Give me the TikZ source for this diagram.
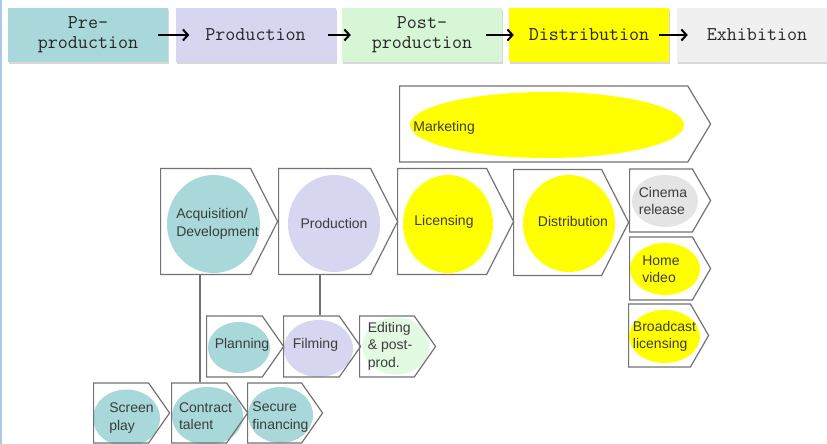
\documentclass[tikz,border=0pt]{standalone}
\usepackage{fontspec}
\newfontfamily\arialfont{Liberation Sans}
\usetikzlibrary{shapes.geometric,shapes.symbols,shadows,arrows.meta}

\definecolor{tealbox}{RGB}{168,216,218}
\definecolor{lavbox}{RGB}{214,214,240}
\definecolor{mintbox}{RGB}{214,246,214}
\definecolor{yellbox}{RGB}{255,255,0}
\definecolor{greybox}{RGB}{240,240,240}
\definecolor{edgegrey}{RGB}{115,115,115}
\definecolor{inkgrey}{RGB}{60,60,60}
\definecolor{winblue}{RGB}{170,202,234}

\begin{document}
\begin{tikzpicture}[x = 1pt, y = -1pt, >= {Straight Barb[length=5pt, width=11pt, line width=2pt]},
    stage/.style = {minimum width = 160pt, minimum height = 54pt, inner sep = 0pt, align = center,
        font = \fontsize{19.5}{20}\selectfont\ttfamily, text = black!85,
        drop shadow = {shadow xshift = 1pt, shadow yshift = -2pt, opacity = .3}},
    flow/.style = {->, line width = 2pt, black},
    chev/.style = {signal, signal to = east, anchor = west, draw = edgegrey, line width = 1.2pt, inner sep = 0pt},
    blob/.style = {ellipse, inner sep = 0pt},
    txt/.style = {font = \fontsize{14}{17.5}\selectfont\arialfont, text = inkgrey, align = left},
    link/.style = {draw = edgegrey, line width = 1.2pt}]

    \useasboundingbox (0, 0) rectangle (827, 444);
    \fill [white] (0, 0) rectangle (827, 444);
    \draw [winblue, line width = 1.2pt] (1, 0) -- (1, 444);

    % pipeline along the top
    \node [stage, fill = tealbox] (pre) at (88, 35) {Pre-\\production};
    \node [stage, fill = lavbox] (prodn) at (255.5, 35) {Production};
    \node [stage, fill = mintbox] (post) at (422, 35) {Post-\\production};
    \node [stage, fill = yellbox] (distr) at (589, 35) {Distribution};
    \node [stage, fill = greybox] (exhib) at (757, 35) {Exhibition};

    \draw [flow] ([xshift = -10pt]pre.east) -- ([xshift = 14pt]prodn.west);
    \draw [flow] ([xshift = -8pt]prodn.east) -- ([xshift = 9pt]post.west);
    \draw [flow] ([xshift = -16pt]post.east) -- ([xshift = 5pt]distr.west);
    \draw [flow] ([xshift = -10pt]distr.east) -- ([xshift = 11pt]exhib.west);

    %%%%%%%%%%%%%%%%%%%%
    \node [blob, fill = yellbox, minimum width = 274pt, minimum height = 66pt] (mktE) at (547, 125) {};
    \node [txt, anchor = west] (mktT) at ([yshift = -3pt]mktE.west) {Marketing};
    \node [chev, signal pointer angle = 118, minimum width = 311pt, minimum height = 76pt] (mkt) at (399, 124) {};

    \node [blob, fill = tealbox, minimum width = 93pt, minimum height = 98pt, label = {[txt, xshift = 4pt]center:Acquisition/\\Development}] (acqE) at (213.5, 224) {};
    \node [blob, fill = lavbox, minimum width = 92pt, minimum height = 97pt, label = {[txt]center:Production}] (prodE) at (334, 223.5) {};
    \node [blob, fill = yellbox, minimum width = 90pt, minimum height = 98pt, label = {[txt, xshift = -4pt, yshift = 2pt]center:Licensing}] (licE) at (448, 224) {};
    \node [blob, fill = yellbox, minimum width = 92pt, minimum height = 97pt, label = {[txt, xshift = 4pt, yshift = 2pt]center:Distribution}] (distE) at (569, 223.5) {};

    \node [chev, signal pointer angle = 126, minimum width = 117pt, minimum height = 106pt] (acq) at (160, 221.5) {};
    \node [chev, signal pointer angle = 126, minimum width = 119pt, minimum height = 106pt] (prod) at (278, 221.5) {};
    \node [chev, signal pointer angle = 126, minimum width = 116pt, minimum height = 106pt] (lic) at (397, 221.5) {};
    \node [chev, signal pointer angle = 126, minimum width = 115pt, minimum height = 106pt] (dist) at (513, 222.5) {};

    % outlets
    \node [blob, fill = greybox!95!black, minimum width = 66pt, minimum height = 52pt, label = {[txt, xshift = -2pt]center:Cinema\\release}] (cinE) at (665, 201) {};
    \node [blob, fill = yellbox, minimum width = 70pt, minimum height = 52pt, label = {[txt, xshift = -4pt]center:Home\\video}] (homeE) at (665, 269) {};
    \node [blob, fill = yellbox, minimum width = 71pt, minimum height = 53pt, label = {[txt]center:Broadcast\\licensing}] (brdE) at (664.5, 336.5) {};

    \node [chev, signal pointer angle = 120, minimum width = 81pt, minimum height = 63pt] (cin) at (629, 200.5) {};
    \node [chev, signal pointer angle = 120, minimum width = 81pt, minimum height = 63pt] (home) at (629, 268.5) {};
    \node [chev, signal pointer angle = 120, minimum width = 80pt, minimum height = 63pt] (brd) at (628, 335.5) {};

    % production steps
    \node [blob, fill = tealbox, minimum width = 62pt, minimum height = 51pt, label = {[txt, xshift = 3pt, yshift = 3pt]center:Planning}] (planE) at (239, 347.5) {};
    \node [blob, fill = lavbox, minimum width = 69pt, minimum height = 57pt, label = {[txt, xshift = -3pt, yshift = 4pt]center:Filming}] (filmE) at (318.5, 348.5) {};
    \node [blob, fill = mintbox!70, minimum width = 67pt, minimum height = 57pt, label = {[txt, xshift = -6pt]center:Editing\\\& post-\\prod.}] (editE) at (396, 346) {};

    \node [chev, signal pointer angle = 110, minimum width = 77pt, minimum height = 61pt] (plan) at (206, 346.5) {};
    \node [chev, signal pointer angle = 110, minimum width = 77pt, minimum height = 61pt] (film) at (283, 346.5) {};
    \node [chev, signal pointer angle = 110, minimum width = 76pt, minimum height = 61pt] (edit) at (359, 346.5) {};

    % development steps
    \node [blob, fill = tealbox, minimum width = 67pt, minimum height = 57pt, label = {[txt, xshift = 5pt]center:Screen\\play}] (scrE) at (126.5, 418) {};
    \node [blob, fill = tealbox, minimum width = 71pt, minimum height = 58pt, label = {[txt, xshift = -2pt]center:Contract\\talent}] (conE) at (207.5, 416) {};
    \node [blob, fill = tealbox, minimum width = 65pt, minimum height = 56pt, label = {[txt, yshift = -2pt]center:Secure\\financing}] (secE) at (280.5, 415) {};

    \node [chev, signal pointer angle = 110, minimum width = 76pt, minimum height = 60pt] (scr) at (93, 413) {};
    \node [chev, signal pointer angle = 110, minimum width = 76pt, minimum height = 60pt] (con) at (171, 413) {};
    \node [chev, signal pointer angle = 110, minimum width = 75pt, minimum height = 60pt] (sec) at (247, 413) {};

    \draw [link] ([xshift = 29pt]con.west |- acq.south) -- ([xshift = 29pt]con.west |- con.north);
    \draw [link] ([xshift = 37pt]film.west |- prod.south) -- ([xshift = 37pt]film.west |- film.north);
\end{tikzpicture}
\end{document}
